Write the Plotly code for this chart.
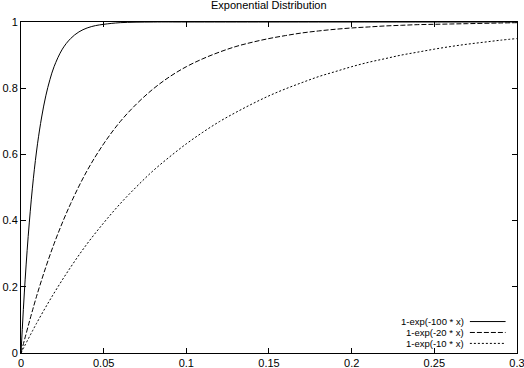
import plotly.graph_objects as go

# ---- data ----
x_fast = [0, 0.0025, 0.005, 0.0075, 0.01, 0.0125, 0.015, 0.0175, 0.02, 0.025,
          0.03, 0.035, 0.04, 0.045, 0.05, 0.06, 0.08, 0.1, 0.15, 0.2, 0.3]
y_fast = [0, 0.221, 0.393, 0.528, 0.632, 0.713, 0.777, 0.826, 0.865, 0.918,
          0.950, 0.970, 0.982, 0.989, 0.993, 0.998, 1.0, 1.0, 1.0, 1.0, 1.0]

x_grid = [0, 0.01, 0.02, 0.03, 0.04, 0.05, 0.06, 0.07, 0.08, 0.09, 0.10,
          0.11, 0.12, 0.13, 0.14, 0.15, 0.16, 0.17, 0.18, 0.19, 0.20,
          0.21, 0.22, 0.23, 0.24, 0.25, 0.26, 0.27, 0.28, 0.29, 0.30]
y_mid = [0, 0.181, 0.330, 0.451, 0.551, 0.632, 0.699, 0.753, 0.798, 0.835, 0.865,
         0.889, 0.909, 0.926, 0.939, 0.950, 0.959, 0.967, 0.973, 0.978, 0.982,
         0.985, 0.988, 0.990, 0.992, 0.993, 0.994, 0.995, 0.996, 0.997, 0.998]
y_slow = [0, 0.095, 0.181, 0.259, 0.330, 0.393, 0.451, 0.503, 0.551, 0.593, 0.632,
          0.667, 0.699, 0.727, 0.753, 0.777, 0.798, 0.817, 0.835, 0.850, 0.865,
          0.878, 0.889, 0.900, 0.909, 0.918, 0.926, 0.933, 0.939, 0.945, 0.950]

series_names = ["1-exp(-100 * x)", "1-exp(-20 * x)", "1-exp(-10 * x)"]
x_ticks = [0, 0.05, 0.1, 0.15, 0.2, 0.25, 0.3]
x_ticklabels = ["0", "0.05", "0.1", "0.15", "0.2", "0.25", "0.3"]
y_ticks = [0, 0.2, 0.4, 0.6, 0.8, 1]
y_ticklabels = ["0", "0.2", "0.4", "0.6", "0.8", "1"]
title_text = "Exponential Distribution"

FONT = "Liberation Sans, Arial, sans-serif"
dashes = ["solid", "5px,2px", "2px,2px"]

fig = go.Figure()
for xs, ys, name, dash in zip([x_fast, x_grid, x_grid], [y_fast, y_mid, y_slow],
                              series_names, dashes):
    fig.add_trace(go.Scatter(x=xs, y=ys, mode="lines", name=name,
                             line=dict(color="black", width=1, dash=dash, shape="spline",
                                       smoothing=1.0),
                             showlegend=False, hoverinfo="skip"))

# gnuplot-style key: right-aligned text followed by the line sample
key_y = [0.095, 0.062, 0.029]
for i, (name, dash) in enumerate(zip(series_names, dashes)):
    fig.add_annotation(x=0.895, y=key_y[i], xref="paper", yref="paper",
                       text=name, showarrow=False, xanchor="right", yanchor="middle",
                       borderpad=0, font=dict(family=FONT, size=9.5, color="black"))
    fig.add_shape(type="line", xref="paper", yref="paper",
                  x0=0.905, x1=0.977, y0=key_y[i], y1=key_y[i],
                  line=dict(color="black", width=1, dash=dash))

axis_common = dict(showline=True, linecolor="black", linewidth=1, mirror="allticks",
                   ticks="inside", ticklen=5, tickcolor="black", tickwidth=1,
                   showgrid=False, zeroline=False, automargin=False,
                   ticklabeloverflow="allow",
                   tickfont=dict(family=FONT, size=11, color="black"))

fig.update_layout(
    width=524, height=368,
    margin=dict(l=21, r=7, t=22, b=15),
    paper_bgcolor="white", plot_bgcolor="white",
    title=dict(text=title_text, x=0.513, xanchor="center", y=0.997, yanchor="top",
               pad=dict(t=0, b=0, l=0, r=0), automargin=False,
               font=dict(family=FONT, size=11, color="black")),
    xaxis=dict(range=[0, 0.30001], tickvals=x_ticks, ticktext=x_ticklabels, **axis_common),
    yaxis=dict(range=[0, 1.00001], tickvals=y_ticks, ticktext=y_ticklabels, **axis_common),
)

fig.write_html("out.html", config={"displayModeBar": False, "staticPlot": True},
               post_script="document.body.style.margin='0';document.body.style.overflow='hidden';")
